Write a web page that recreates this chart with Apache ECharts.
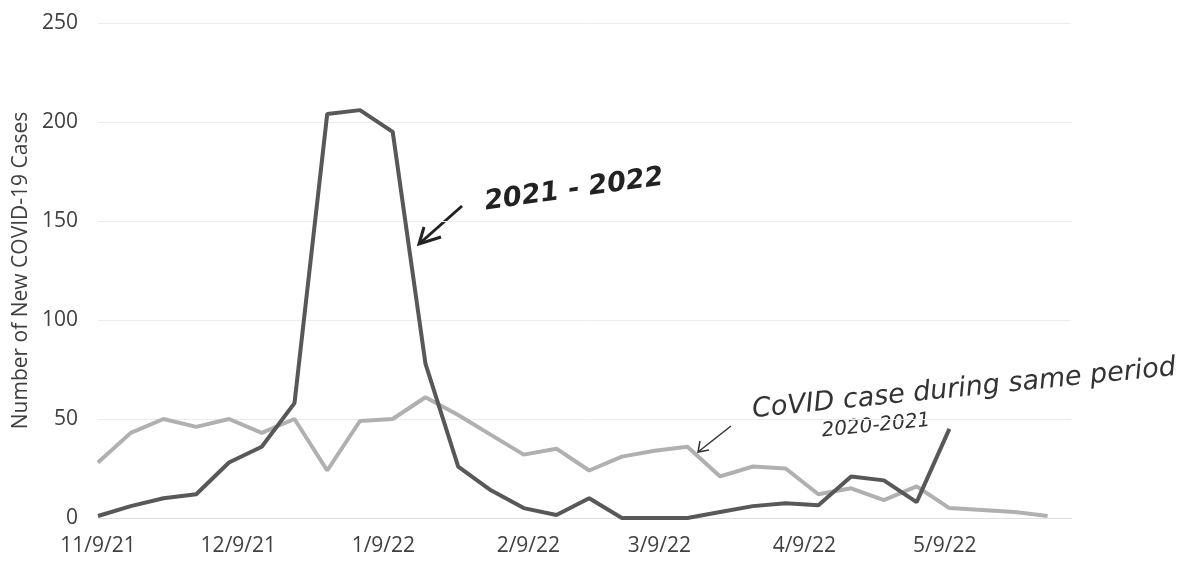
<!DOCTYPE html>
<html><head><meta charset="utf-8">
<script src="https://cdn.jsdelivr.net/npm/echarts@6/dist/echarts.min.js"></script>
<style>html,body{margin:0;padding:0;background:#fff}#c{width:1204px;height:572px}</style>
</head><body><div id="c"></div>
<script>
const weekDates = ['11/9/21','11/16/21','11/23/21','11/30/21','12/7/21','12/14/21','12/21/21','12/28/21',
  '1/4/22','1/11/22','1/18/22','1/25/22','2/1/22','2/8/22','2/15/22','2/22/22','3/1/22','3/8/22',
  '3/15/22','3/22/22','3/29/22','4/5/22','4/12/22','4/19/22','4/26/22','5/3/22','5/10/22','5/17/22',
  '5/24/22','5/31/22'];
const cases2122 = [1, 6, 10, 12, 28, 36, 58, 204, 206, 195, 78, 26, 14, 5, 1.5, 10, 0, 0, 0, 3, 6, 7.5, 6.5, 21, 19, 8, 45];
const cases2021 = [28, 43, 50, 46, 50, 43, 50, 24, 49, 50, 61, 52, 42, 32, 35, 24, 31, 34, 36, 21, 26, 25, 12, 15, 9, 16, 5, 4, 3, 1];
const tickLabels = ['11/9/21','12/9/21','1/9/22','2/9/22','3/9/22','4/9/22','5/9/22'];
const yMin = 0, yMax = 250, yStep = 50;
const yName = 'Number of New COVID-19 Cases';
const note1 = '2021 - 2022';
const note2a = 'CoVID case during same period';
const note2b = '2020-2021';

// daily category axis (Excel-style date axis)
const days = [];
for (let t = Date.UTC(2021, 10, 9); t <= Date.UTC(2022, 5, 5); t += 86400000) {
  const d = new Date(t);
  days.push((d.getUTCMonth() + 1) + '/' + d.getUTCDate() + '/' + String(d.getUTCFullYear()).slice(2));
}

const chart = echarts.init(document.getElementById('c'));
const font = 'Open Sans';
const hand = 'DejaVu Sans';
chart.setOption({
  backgroundColor: '#ffffff',
  animation: false,
  grid: { left: 98, right: 133, top: 23, bottom: 54 },
  xAxis: {
    type: 'category', data: days, boundaryGap: false,
    axisLine: { show: true, lineStyle: { color: '#e0e0e0' } },
    axisTick: { show: false },
    splitLine: { show: false },
    axisLabel: {
      interval: (i, v) => tickLabels.includes(v),
      color: '#404040', fontFamily: font, fontSize: 21, margin: 18
    }
  },
  yAxis: {
    type: 'value', min: yMin, max: yMax, interval: yStep,
    name: yName, nameLocation: 'middle', nameRotate: 90, nameGap: 64,
    nameTextStyle: { color: '#404040', fontFamily: font, fontSize: 21 },
    axisLine: { show: false }, axisTick: { show: false },
    axisLabel: { color: '#404040', fontFamily: font, fontSize: 21, margin: 20 },
    splitLine: { lineStyle: { color: '#ececec', width: 1 } }
  },
  series: [
    { name: '2020-2021', type: 'line', showSymbol: false, symbol: 'none',
      data: cases2021.map((v, i) => [weekDates[i], v]),
      lineStyle: { color: '#b0b0b0', width: 4 } },
    { name: '2021-2022', type: 'line', showSymbol: false, symbol: 'none',
      data: cases2122.map((v, i) => [weekDates[i], v]),
      lineStyle: { color: '#585858', width: 4 } }
  ],
  graphic: [
    { type: 'text', x: 574, y: 190, rotation: 0.14,
      style: { text: note1, font: 'italic bold 27px "' + hand + '"', fill: '#222', align: 'center', verticalAlign: 'middle' } },
    { type: 'polyline', shape: { points: [[462, 206], [419, 244]] }, style: { stroke: '#222', lineWidth: 3 } },
    { type: 'polyline', shape: { points: [[424, 227], [419, 244], [441, 237]] }, style: { stroke: '#222', lineWidth: 3, fill: null } },
    { type: 'text', x: 964, y: 389, rotation: 0.1,
      style: { text: note2a, font: 'italic 27px "' + hand + '"', fill: '#333', align: 'center', verticalAlign: 'middle' } },
    { type: 'text', x: 876, y: 426, rotation: 0.1,
      style: { text: note2b, font: 'italic 20px "' + hand + '"', fill: '#333', align: 'center', verticalAlign: 'middle' } },
    { type: 'polyline', shape: { points: [[731, 426], [698, 452]] }, style: { stroke: '#333', lineWidth: 1.5 } },
    { type: 'polyline', shape: { points: [[700, 441], [698, 452], [709, 450]] }, style: { stroke: '#333', lineWidth: 1.5, fill: null } }
  ]
});
</script></body></html>
